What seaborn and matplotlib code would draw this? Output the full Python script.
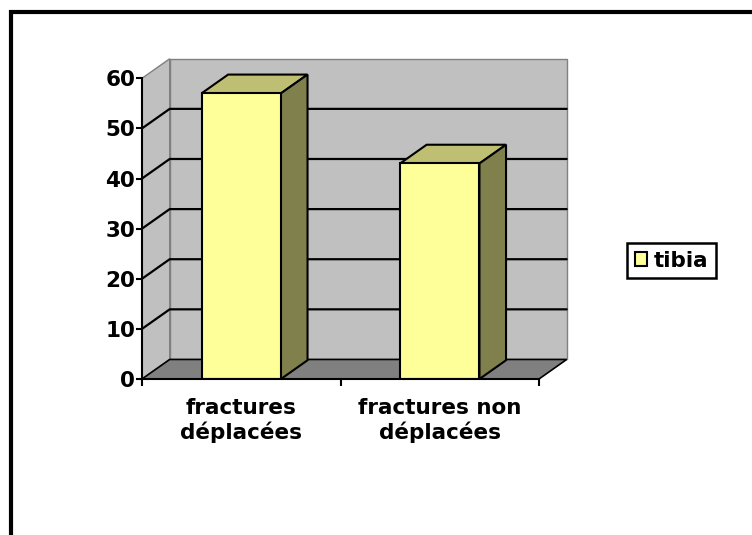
import pandas as pd
import seaborn as sns
import matplotlib.pyplot as plt
from matplotlib.patches import Polygon
from matplotlib.lines import Line2D

# data
categories = ["fractures\ndéplacées", "fractures non\ndéplacées"]
values = [57, 43]
series = ["tibia", "tibia"]

df = pd.DataFrame({"cat": categories, "pct": values, "serie": series})

sns.set_theme(style="white")
plt.rcParams['font.family'] = ['DejaVu Sans']
plt.rcParams['font.weight'] = 'bold'
plt.rcParams['text.color'] = 'black'

fig = plt.figure(figsize=(7.52, 5.35), dpi=100)
ax = fig.add_axes([142 / 752, 1 - 379 / 535, 397 / 752, 300.7 / 535])

front = '#ffff99'
sns.barplot(data=df, x="cat", y="pct", hue="serie", palette=[front],
            width=0.4, edgecolor="black", linewidth=1.5, saturation=1,
            ax=ax)
ax.set_xlim(-0.5, 1.5)
ax.set_ylim(0, 60)
ax.set_facecolor('none')

# depth offset of the 3D box (data units)
dx, dy = 0.1395, 3.9
ymax = 60

# back wall, side wall, floor
ax.add_patch(Polygon([(-0.5 + dx, dy), (1.5 + dx, dy), (1.5 + dx, ymax + dy), (-0.5 + dx, ymax + dy)],
                     closed=True, fc='#c0c0c0', ec='#808080', lw=1, zorder=0.1, clip_on=False))
ax.add_patch(Polygon([(-0.5, 0), (-0.5, ymax), (-0.5 + dx, ymax + dy), (-0.5 + dx, dy)],
                     closed=True, fc='#c0c0c0', ec='#808080', lw=1, zorder=0.1, clip_on=False))
ax.add_patch(Polygon([(-0.5, 0), (1.5, 0), (1.5 + dx, dy), (-0.5 + dx, dy)],
                     closed=True, fc='#808080', ec='black', lw=1.2, zorder=0.2, clip_on=False))

# gridlines on back and side walls
for g in range(10, 60, 10):
    ax.plot([-0.5, -0.5 + dx, 1.5 + dx], [g, g + dy, g + dy], color='black', lw=1.6,
            zorder=0.3, clip_on=False)

# 3D faces of the bars
bdx, bdy = dx * 0.96, dy * 0.96
for p in list(ax.patches):
    if p.get_facecolor()[:3] != plt.matplotlib.colors.to_rgb(front):
        continue
    x0, w, h = p.get_x(), p.get_width(), p.get_height()
    x1 = x0 + w
    p.set_zorder(1.2)
    ax.add_patch(Polygon([(x0, h), (x1, h), (x1 + bdx, h + bdy), (x0 + bdx, h + bdy)],
                         closed=True, fc='#bfbf73', ec='black', lw=1.5, zorder=1.1, clip_on=False))
    ax.add_patch(Polygon([(x1, 0), (x1, h), (x1 + bdx, h + bdy), (x1 + bdx, bdy)],
                         closed=True, fc='#80804d', ec='black', lw=1.5, zorder=1.1, clip_on=False))

# axes
for s in ['top', 'right']:
    ax.spines[s].set_visible(False)
for s in ['left', 'bottom']:
    ax.spines[s].set_color('black')
    ax.spines[s].set_linewidth(1.5)
    ax.spines[s].set_zorder(2.5)

ax.set_yticks(range(0, 61, 10))
ax.tick_params(axis='y', left=True, length=4, width=1.5, color='black', pad=1,
               labelsize=15.5, labelcolor='black')
ax.set_xticks([0, 1])
ax.set_xticks([-0.5, 0.5, 1.5], minor=True)
ax.tick_params(axis='x', which='major', length=0, pad=14, labelsize=15.5, labelcolor='black')
ax.tick_params(axis='x', which='minor', bottom=True, length=5, width=1.5, color='black')
for lab in ax.get_xticklabels() + ax.get_yticklabels():
    lab.set_fontweight('bold')
ax.set_xlabel('')
ax.set_ylabel('')

sns.move_legend(ax, "center", bbox_to_anchor=(0.893, 0.513), bbox_transform=fig.transFigure,
                title=None, frameon=True, fancybox=False, framealpha=1, fontsize=15.5,
                handlelength=0.6, handleheight=0.6, handletextpad=0.3,
                borderpad=0.35, borderaxespad=0)
leg = ax.get_legend()
leg.get_frame().set_edgecolor('black')
leg.get_frame().set_linewidth(1.8)
for t in leg.get_texts():
    t.set_fontweight('bold')
    t.set_color('black')

# outer chart border (only top and left visible)
fig.add_artist(Line2D([11 / 752, 11 / 752, 1.01], [-0.01, 1 - 12 / 535, 1 - 12 / 535],
                      transform=fig.transFigure, color='black', lw=3, solid_joinstyle='miter'))

fig.savefig('out.png', dpi=100)
